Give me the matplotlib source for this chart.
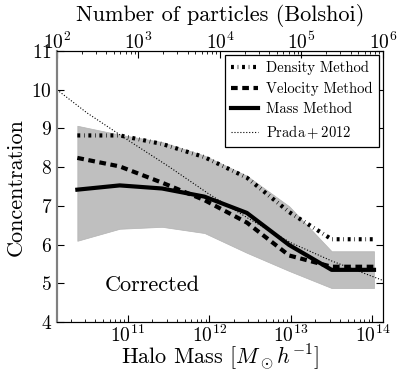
import numpy as np
import matplotlib
matplotlib.use("Agg")
import matplotlib.pyplot as plt

plt.rcParams['font.family'] = 'serif'
plt.rcParams['font.serif'] = ['cmr10']
plt.rcParams['mathtext.fontset'] = 'cm'
plt.rcParams['axes.formatter.use_mathtext'] = True

# Data (log10 halo mass [Msun/h])
log_mass = [10.38, 10.90, 11.42, 11.94, 12.46, 12.98, 13.50, 14.02]
density_c = [8.82, 8.82, 8.60, 8.26, 7.73, 6.84, 6.14, 6.14]
velocity_c = [8.24, 8.02, 7.60, 7.15, 6.57, 5.72, 5.43, 5.43]
mass_c = [7.42, 7.53, 7.45, 7.24, 6.82, 5.99, 5.35, 5.35]
band_upper = [9.07, 8.84, 8.65, 8.30, 7.78, 6.99, 5.83, 5.83]
band_lower = [6.10, 6.41, 6.46, 6.30, 5.79, 5.32, 4.88, 4.88]

prada_logm = [10.13, 10.5, 11.0, 11.5, 12.0, 12.5, 13.0, 13.5, 14.15]
prada_c = [10.0, 9.4, 8.7, 8.02, 7.3, 6.65, 6.05, 5.58, 5.06]

particle_mass = 1.35e8
xlim_mass = (1.35e10, 1.35e14)

fig = plt.figure(figsize=(4.07, 3.75), dpi=100)
ax = fig.add_axes([0.140, 0.141, 0.801, 0.723])

m = 10 ** np.array(log_mass)
ax.fill_between(m, band_lower, band_upper, facecolor='0.75', lw=0.5, edgecolor='0.7')
l1, = ax.plot(m, density_c, color='k', lw=3, dashes=(0.7, 0.9, 0.15, 0.9),
              label='Density Method')
l2, = ax.plot(m, velocity_c, color='k', lw=3, dashes=(1.6, 1.1),
              label='Velocity Method')
l3, = ax.plot(m, mass_c, color='k', lw=3, label='Mass Method')
l4, = ax.plot(10 ** np.array(prada_logm), prada_c, color='k', lw=0.8, ls=':',
              label=r'$\mathrm{Prada+2012}$')

ax.set_xscale('log')
ax.set_xlim(*xlim_mass)
ax.set_ylim(4, 11)
ax.set_yticks(range(4, 12))
ax.tick_params(which='both', direction='in', top=False, right=True, labelsize=14)
ax.tick_params(which='major', length=5)
ax.tick_params(which='minor', length=2.5)
ax.tick_params(axis='x', pad=2)
ax.set_xlabel(r'Halo Mass $[M_\odot h^{-1}]$', fontsize=16, labelpad=-3)
ax.set_ylabel('Concentration', fontsize=16, labelpad=4)
ax.spines['left'].set_color('0.5')
ax.spines['left'].set_linewidth(1.5)

ax.text(0.145, 0.137, 'Corrected', transform=ax.transAxes, fontsize=16,
        ha='left', va='center')

leg = ax.legend(handles=[l1, l2, l3, l4], loc='upper right', fontsize=10.5,
                fancybox=False, edgecolor='k', framealpha=1, handlelength=1.8,
                handletextpad=0.6, borderaxespad=0.3, labelspacing=0.45)
leg.get_frame().set_linewidth(0.9)

ax2 = ax.twiny()
ax2.set_xscale('log')
ax2.set_xlim(xlim_mass[0] / particle_mass, xlim_mass[1] / particle_mass)
ax2.tick_params(which='both', direction='in', labelsize=14, pad=-1.5)
ax2.tick_params(which='major', length=5)
ax2.tick_params(which='minor', length=2.5)
ax2.set_xlabel('Number of particles (Bolshoi)', fontsize=16, labelpad=8)
ax2.spines['left'].set_color('0.5')
ax2.spines['left'].set_linewidth(1.5)

fig.savefig('out.png', dpi=100)
